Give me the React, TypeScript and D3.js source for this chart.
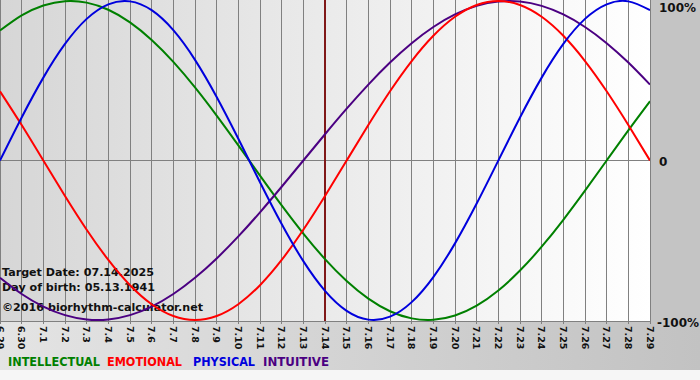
import React from "react";
import * as d3 from "d3";

const dates = ["6.29","6.30","7.1","7.2","7.3","7.4","7.5","7.6","7.7","7.8","7.9","7.10","7.11","7.12","7.13","7.14","7.15","7.16","7.17","7.18","7.19","7.20","7.21","7.22","7.23","7.24","7.25","7.26","7.27","7.28","7.29"];

const physical = [0,0.2698,0.5196,0.7308,0.8879,0.9791,0.9977,0.9423,0.8170,0.6311,0.3984,0.1362,-0.1362,-0.3984,-0.6311,-0.8170,-0.9423,-0.9977,-0.9791,-0.8879,-0.7308,-0.5196,-0.2698,0,0.2698,0.5196,0.7308,0.8879,0.9791,0.9977,0.9423];
const emotional = [0.4339,0.2225,0,-0.2225,-0.4339,-0.6235,-0.7818,-0.9010,-0.9749,-1,-0.9749,-0.9010,-0.7818,-0.6235,-0.4339,-0.2225,0,0.2225,0.4339,0.6235,0.7818,0.9010,0.9749,1,0.9749,0.9010,0.7818,0.6235,0.4339,0.2225,0];
const intellectual = [0.8146,0.9096,0.9718,0.9989,0.9898,0.9450,0.8660,0.7557,0.6182,0.4582,0.2817,0.0951,-0.0951,-0.2817,-0.4582,-0.6182,-0.7557,-0.8660,-0.9450,-0.9898,-0.9989,-0.9718,-0.9096,-0.8146,-0.6900,-0.5406,-0.3717,-0.1893,0,0.1893,0.3717];
const intuitive = [-0.7357,-0.8372,-0.9158,-0.9694,-0.9966,-0.9966,-0.9694,-0.9158,-0.8372,-0.7357,-0.6142,-0.4759,-0.3247,-0.1646,0,0.1646,0.3247,0.4759,0.6142,0.7357,0.8372,0.9158,0.9694,0.9966,0.9966,0.9694,0.9158,0.8372,0.7357,0.6142,0.4759];

const targetDate = "7.14";
const yTicks = [
  { v: 1, label: "100%" },
  { v: 0, label: "0" },
  { v: -1, label: "-100%" },
];
const legend = [
  { name: "INTELLECTUAL", color: "#008000" },
  { name: "EMOTIONAL", color: "#ff0000" },
  { name: "PHYSICAL", color: "#0000dd" },
  { name: "INTUITIVE", color: "#4b0082" },
];
const infoLines = ["Target Date: 07.14.2025", "Day of birth: 05.13.1941", "©2016 biorhythm-calculator.net"];

const W = 700, H = 380;
const PL = 0, PR = 650, PT = 0, PB = 321;
const FONT = "'DejaVu Sans', Verdana, sans-serif";

export default function App() {
  const x = d3.scaleLinear().domain([0, dates.length - 1]).range([PL, PR]);
  const y = d3.scaleLinear().domain([-1, 1]).range([320, 1]);
  const line = d3.line<number>().x((_, i) => x(i)).y((d) => y(d)).curve(d3.curveNatural);
  const series = [
    { data: intellectual, color: "#008000" },
    { data: intuitive, color: "#4b0082" },
    { data: emotional, color: "#ff0000" },
    { data: physical, color: "#0000dd" },
  ];
  const ti = dates.indexOf(targetDate);
  const legendX = [8, 107, 193, 263];
  const legendW = [92, 75, 62, 66];
  const infoY = [276, 291, 311];
  const infoW = [152, 153, 201];
  return (
    <svg width={W} height={H} style={{ position: "absolute", left: 0, top: 0 }} fontFamily={FONT}>
      <defs>
        <linearGradient id="plotBg" x1="0" x2="1" y1="0" y2="0">
          <stop offset="0" stopColor="#d6d6d6" />
          <stop offset="1" stopColor="#ffffff" />
        </linearGradient>
        <linearGradient id="bottomBg" x1="0" x2="1" y1="0" y2="0">
          <stop offset="0" stopColor="#e4e4e4" />
          <stop offset="1" stopColor="#c2c2c2" />
        </linearGradient>
        <clipPath id="plotClip">
          <rect x={PL} y={PT} width={PR - PL} height={PB - PT} />
        </clipPath>
      </defs>
      <rect x={0} y={0} width={W} height={H} fill="#f6f6f6" />
      <rect x={0} y={PB} width={W} height={370 - PB} fill="url(#bottomBg)" />
      <rect x={PR} y={0} width={W - PR} height={PB} fill="#c4c4c4" />
      <rect x={PL} y={PT} width={PR - PL} height={PB - PT} fill="url(#plotBg)" />
      {dates.map((d, i) => (
        <line key={d} x1={x(i)} x2={x(i)} y1={PT} y2={PB + 3} stroke="#808080" strokeWidth={1} shapeRendering="crispEdges" />
      ))}
      <line x1={PL} x2={PR} y1={y(0)} y2={y(0)} stroke="#808080" shapeRendering="crispEdges" />
      <line x1={PL} x2={PR} y1={PB} y2={PB} stroke="#808080" shapeRendering="crispEdges" />
      <line x1={x(ti)} x2={x(ti)} y1={PT} y2={PB} stroke="#801818" strokeWidth={2} />
      {infoLines.map((t, i) => (
        <text key={t} x={2} y={infoY[i]} fontSize={11} fontWeight="bold" fill="#111" textLength={infoW[i]} lengthAdjust="spacingAndGlyphs">{t}</text>
      ))}
      <g clipPath="url(#plotClip)">
        {series.map((s) => (
          <path key={s.color} d={line(s.data) || ""} fill="none" stroke={s.color} strokeWidth={2} />
        ))}
      </g>
      {dates.map((d, i) => (
        <text key={d} transform={`translate(${x(i) - 3.5},${PB + 5}) rotate(90)`} fontSize={9.5} fill="#111" fontWeight="bold">{d}</text>
      ))}
      {yTicks.map((t, k) => (
        <text key={t.label} x={t.v < 0 ? 657 : 659} y={[12, 166, 327][k]} fontSize={12} fontWeight="bold" fill="#111">{t.label}</text>
      ))}
      {legend.map((l, i) => (
        <text key={l.name} x={legendX[i]} y={366} fontSize={11.5} fontWeight="bold" fill={l.color} textLength={legendW[i]} lengthAdjust="spacingAndGlyphs">{l.name}</text>
      ))}
    </svg>
  );
}
